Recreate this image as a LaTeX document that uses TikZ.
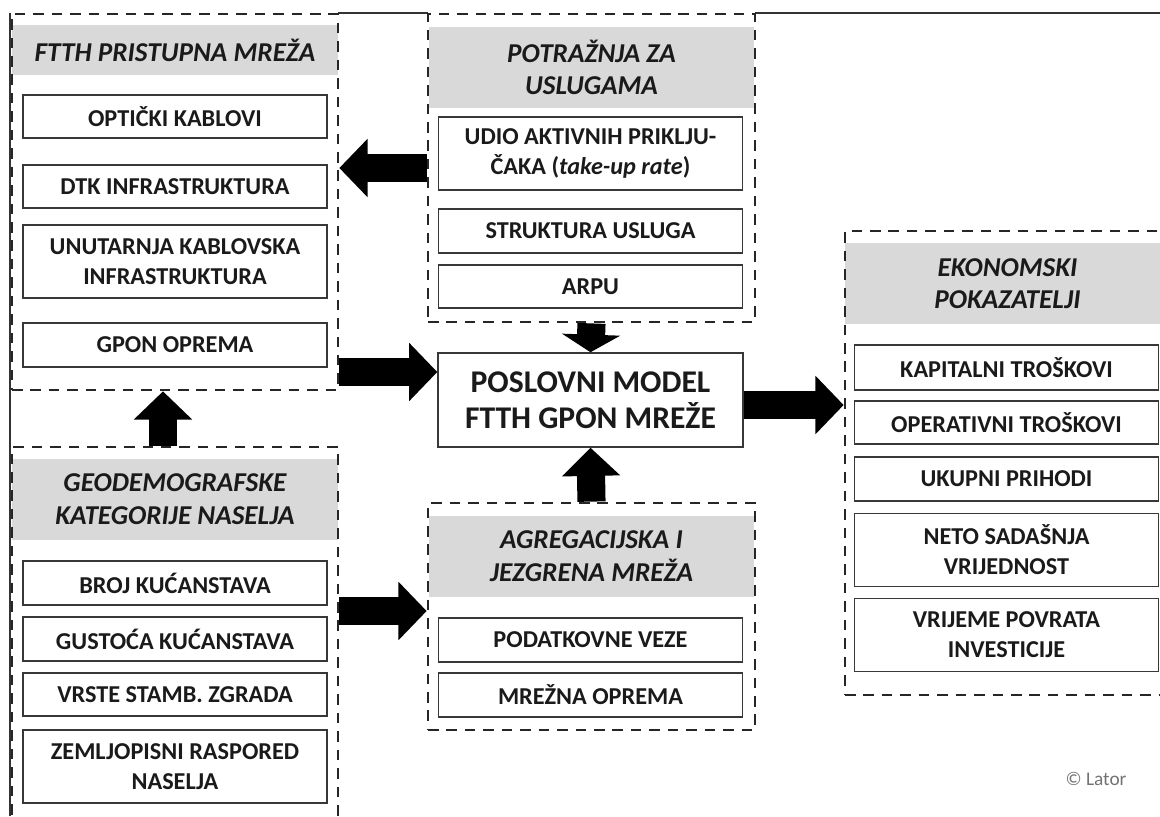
\documentclass[tikz,border=0pt]{standalone}
\usepackage{fontspec}
\setmainfont{Carlito}
\usetikzlibrary{arrows.meta,fit}
\definecolor{sivo}{HTML}{D9D9D9}
\definecolor{tekst}{HTML}{1A1A1A}
\definecolor{rub}{HTML}{383838}

\begin{document}
\begin{tikzpicture}[x=0.02cm, y=-0.02cm,
    grupa/.style = {draw=black!85, line width=1.6pt,
        dash pattern=on 6pt off 4.5pt, inner sep=0pt},
    naslov/.style = {fill=sivo, text=tekst, align=center,
        minimum width=6.52cm, minimum height=1.62cm,
        font=\fontsize{15.5}{18.5}\selectfont\bfseries\itshape},
    stavka/.style = {draw=rub, line width=0.9pt, fill=white, text=tekst,
        align=center, minimum width=6.08cm, minimum height=0.87cm,
        font=\fontsize{13.8}{17}\selectfont\bfseries},
    dvije/.style = {minimum height=1.46cm},
    blok/.style = {line width=16pt,
        -{Triangle[length=16pt,width=33pt,line width=1.2pt]}}]

\useasboundingbox (0,0) rectangle (1160,816);
\clip (0,0) rectangle (1160,816);
\fill[white] (0,0) rectangle (1160,816);

% Frame
\draw[line width=1.3pt, black!80] (10,816) -- (10,13);
\draw[line width=1.3pt, black!80] (338,13) -- (428,13);
\draw[line width=1.3pt, black!80] (755,13) -- (1160,13);

% Headers
\node[naslov, minimum height=1cm] (hA) at (175,50) {FTTH PRISTUPNA MREŽA};
\node[naslov] (hB) at (591.5,67.5) {POTRAŽNJA ZA\\USLUGAMA};
\node[naslov] (hC) at (591.5,556) {AGREGACIJSKA I\\JEZGRENA MREŽA};
\node[naslov] (hD) at (175,499) {GEODEMOGRAFSKE\\KATEGORIJE NASELJA};
\node[naslov, minimum width=6.5cm] (hE) at (1007.5,283.5) {EKONOMSKI\\POKAZATELJI};

% Groups
\node[grupa, fit={(12,14) (338,390)}] (A) {};
\node[grupa, fit={(428,14) (755,322)}] (B) {};
\node[grupa, fit={(428,503) (755,730)}] (C) {};
\node[grupa, fit={(12,447) (338,840)}] (D) {};
\node[grupa, fit={(845,231) (1175,695)}] (E) {};

% FTTH pristupna mreza
\node[stavka] (a1) at (175,116.5) {OPTIČKI KABLOVI};
\node[stavka] (a2) at (175,186.5) {DTK INFRASTRUKTURA};
\node[stavka, dvije] (a3) at (175,261.5) {UNUTARNJA KABLOVSKA\\INFRASTRUKTURA};
\node[stavka] (a4) at (175,345) {GPON OPREMA};

% Potraznja za uslugama
\node[stavka, dvije] (b1) at (590.5,153.5) {UDIO AKTIVNIH PRIKLJU-\\ČAKA (\textit{take-up rate})};
\node[stavka] (b2) at (590.5,231) {STRUKTURA USLUGA};
\node[stavka] (b3) at (590.5,286.5) {ARPU};

% Agregacijska i jezgrena mreza
\node[stavka] (c1) at (590.5,640) {PODATKOVNE VEZE};
\node[stavka] (c2) at (590.5,695) {MREŽNA OPREMA};

% Geodemografske kategorije
\node[stavka] (d1) at (175,583) {BROJ KUĆANSTAVA};
\node[stavka] (d2) at (175,639) {GUSTOĆA KUĆANSTAVA};
\node[stavka] (d3) at (175,694.5) {VRSTE STAMB. ZGRADA};
\node[stavka, dvije] (d4) at (175,766.5) {ZEMLJOPISNI RASPORED\\NASELJA};

% Ekonomski pokazatelji
\node[stavka, minimum height=0.9cm] (e1) at (1006.5,367.5) {KAPITALNI TROŠKOVI};
\node[stavka] (e2) at (1006.5,422.5) {OPERATIVNI TROŠKOVI};
\node[stavka] (e3) at (1006.5,479) {UKUPNI PRIHODI};
\node[stavka, dvije] (e4) at (1006.5,550) {NETO SADAŠNJA\\VRIJEDNOST};
\node[stavka, dvije] (e5) at (1006.5,635) {VRIJEME POVRATA\\INVESTICIJE};

% Poslovni model
\node[draw=rub, line width=0.9pt, fill=white, text=tekst, align=center,
    minimum width=6.1cm, minimum height=1.88cm,
    font=\fontsize{18}{20.5}\selectfont\bfseries] (M) at (590.5,400)
    {POSLOVNI MODEL\\FTTH GPON MREŽE};

\node[text=black!55, font=\fontsize{11}{13}\selectfont] (lator) at (1096,779) {© Lator};

% Arrows
\draw[blok] (B.west |- 0,168) -- (A.east |- 0,168);
\draw[blok] (A.east |- 0,372) -- (M.west |- 0,372);
\draw[blok, -{Triangle[length=10pt,width=33pt,line width=1.2pt]}] (B.south) -- (M.north);
\draw[blok] (C.north) -- (M.south);
\draw[blok] (M.east |- 0,405) -- (E.west |- 0,405);
\draw[blok] (D.north -| 163,0) -- (A.south -| 163,0);
\draw[blok] (D.east |- 0,611) -- (C.west |- 0,611);
\end{tikzpicture}
\end{document}
